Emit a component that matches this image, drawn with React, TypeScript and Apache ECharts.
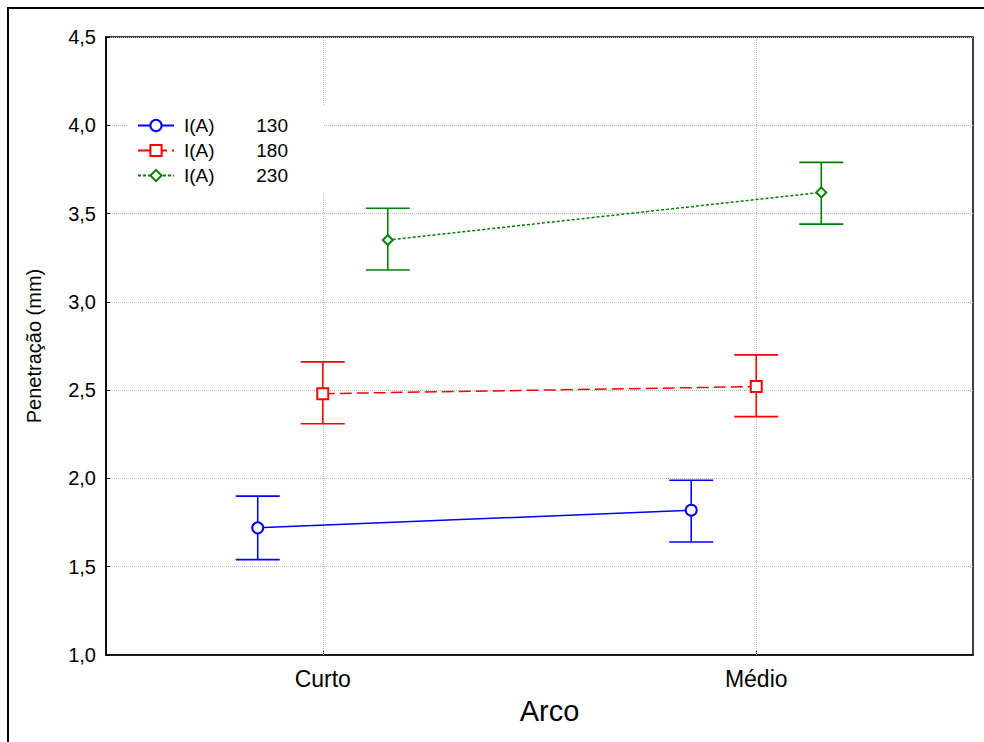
import React, { useEffect, useRef } from "react";
import * as echarts from "echarts";

const categories = ["Curto", "Médio"];
const seriesNames = ["130", "180", "230"];
const means130 = [1.72, 1.82];
const lower130 = [1.54, 1.64];
const upper130 = [1.9, 1.99];
const means180 = [2.48, 2.52];
const lower180 = [2.31, 2.35];
const upper180 = [2.66, 2.7];
const means230 = [3.35, 3.62];
const lower230 = [3.18, 3.44];
const upper230 = [3.53, 3.79];
const yTicks = [1.0, 1.5, 2.0, 2.5, 3.0, 3.5, 4.0, 4.5];

const COLORS = ["#0000ff", "#ff0000", "#008000"];
const LINE_TYPES: any[] = ["solid", [12, 5], [3, 2]];
const SYMBOLS = ["emptyCircle", "emptyRect", "emptyDiamond"];
const SYMBOL_SIZES = [11, 11, 10];
const OFFSETS = [-0.3, 0, 0.3];
const FONT = "'Liberation Sans', Arial, sans-serif";

const catX = (i: number) => i * 2 + 1;

export default function App() {
  const ref = useRef<HTMLDivElement>(null);
  useEffect(() => {
    if (!ref.current) return;
    const chart = echarts.init(ref.current, null, { renderer: "svg" });
    const means = [means130, means180, means230];
    const lowers = [lower130, lower180, lower230];
    const uppers = [upper130, upper180, upper230];

    const series: any[] = [];
    series.push({
      type: "line",
      data: [],
      silent: true,
      markLine: {
        silent: true,
        z: 0.5,
        symbol: "none",
        label: { show: false },
        lineStyle: { type: "dotted", color: "#b8b8b8", width: 1 },
        data: categories.map((_, i) => ({ xAxis: catX(i) })),
      },
    });
    seriesNames.forEach((name, k) => {
      series.push({
        type: "custom",
        name: name + "_err",
        z: 2,
        silent: true,
        data: categories.map((_, i) => [catX(i) + OFFSETS[k], lowers[k][i], uppers[k][i]]),
        encode: { x: 0, y: [1, 2] },
        renderItem: (params: any, api: any) => {
          const x = api.value(0);
          const lo = api.coord([x, api.value(1)]);
          const hi = api.coord([x, api.value(2)]);
          const w = 22;
          const style = { stroke: COLORS[k], lineWidth: 1.6 };
          return {
            type: "group",
            children: [
              { type: "line", shape: { x1: lo[0], y1: lo[1], x2: hi[0], y2: hi[1] }, style },
              { type: "line", shape: { x1: lo[0] - w, y1: lo[1], x2: lo[0] + w, y2: lo[1] }, style },
              { type: "line", shape: { x1: hi[0] - w, y1: hi[1], x2: hi[0] + w, y2: hi[1] }, style },
            ],
          };
        },
      });
    });
    seriesNames.forEach((name, k) => {
      series.push({
        type: "line",
        name,
        z: 3,
        data: categories.map((_, i) => [catX(i) + OFFSETS[k], means[k][i]]),
        symbol: SYMBOLS[k],
        symbolSize: SYMBOL_SIZES[k],
        lineStyle: { color: COLORS[k], width: 1.5, type: LINE_TYPES[k] },
        itemStyle: { color: COLORS[k], borderColor: COLORS[k], borderWidth: 1.5 },
      });
    });

    chart.setOption({
      animation: false,
      backgroundColor: "#ffffff",
      textStyle: { fontFamily: FONT, color: "#000" },
      grid: {
        left: 106,
        top: 37,
        right: 11,
        bottom: 87,
        show: true,
        borderColor: "#000",
        borderWidth: 1.5,
        backgroundColor: "transparent",
      },
      legend: {
        data: seriesNames,
        orient: "vertical",
        left: 128,
        top: 105,
        padding: [11, 36, 8, 9],
        backgroundColor: "#ffffff",
        itemWidth: 36,
        itemHeight: 14,
        itemGap: 6,
        selectedMode: false,
        formatter: (n: string) => `{a|I(A)}{b|${n}}`,
        textStyle: {
          fontFamily: FONT,
          color: "#000",
          rich: {
            a: { width: 67, padding: [0, 0, 0, 5], fontSize: 19, lineHeight: 18, fontFamily: FONT, color: "#000" },
            b: { width: 37, align: "right", fontSize: 19, lineHeight: 18, fontFamily: FONT, color: "#000" },
          },
        },
      },
      xAxis: {
        type: "value",
        min: 0,
        max: 4,
        interval: 1,
        name: "Arco",
        nameLocation: "middle",
        nameGap: 41,
        nameTextStyle: { fontSize: 29, fontFamily: FONT, color: "#000", padding: [0, 0, 0, 20] },
        axisLine: { show: true, lineStyle: { color: "#000", width: 1.5 } },
        axisTick: { show: true, inside: true, length: 5, customValues: [1, 3], lineStyle: { color: "#000" } },
        axisLabel: {
          customValues: [1, 3],
          fontSize: 23,
          margin: 12,
          color: "#000",
          fontFamily: FONT,
          formatter: (v: number) => {
            const idx = categories.findIndex((_, i) => catX(i) === v);
            return idx >= 0 ? categories[idx] : "";
          },
        },
        splitLine: { show: false },
      },
      yAxis: {
        type: "value",
        min: yTicks[0],
        max: yTicks[yTicks.length - 1],
        interval: 0.5,
        name: "Penetração (mm)",
        nameLocation: "middle",
        nameGap: 62,
        nameTextStyle: { fontSize: 20, fontFamily: FONT, color: "#000" },
        axisLine: { show: true, lineStyle: { color: "#000", width: 1.5 } },
        axisTick: { show: true, inside: true, length: 4, lineStyle: { color: "#000" } },
        axisLabel: {
          fontSize: 20,
          margin: 10,
          color: "#000",
          fontFamily: FONT,
          formatter: (v: number) => v.toFixed(1).replace(".", ","),
        },
        splitLine: { show: true, lineStyle: { type: "dotted", color: "#b8b8b8", width: 1 } },
      },
      graphic: [
        {
          type: "polyline",
          shape: { points: [[8, 742], [8, 8], [984, 8]] },
          style: { stroke: "#000", lineWidth: 2, fill: "none" },
          silent: true,
        },
      ],
      series,
    });
    return () => chart.dispose();
  }, []);
  return (
    <div
      ref={ref}
      style={{ position: "fixed", left: 0, top: 0, width: 984, height: 742, background: "#fff" }}
    />
  );
}
